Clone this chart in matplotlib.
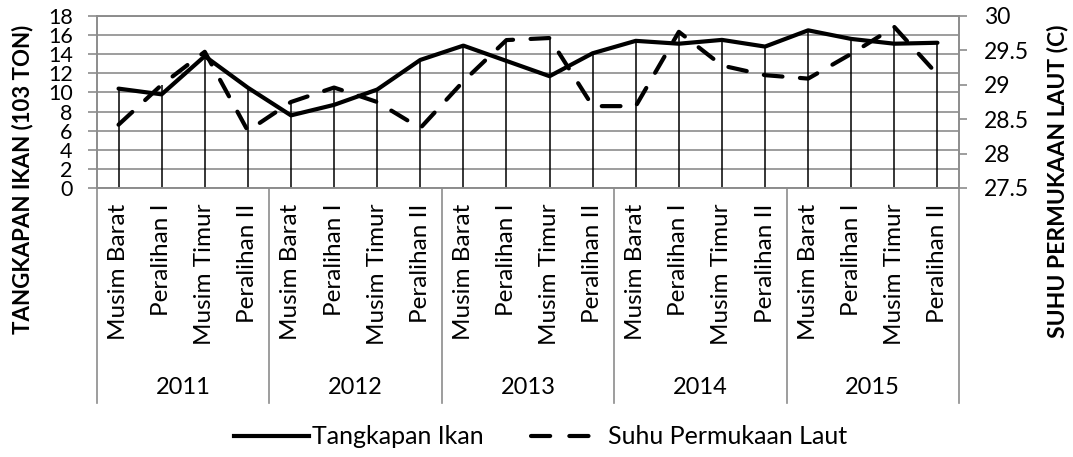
import numpy as np
import matplotlib
matplotlib.use('Agg')
import matplotlib.pyplot as plt
from matplotlib.transforms import blended_transform_factory

plt.rcParams['font.family'] = ['Lato', 'DejaVu Sans']

# data
years = ['2011', '2012', '2013', '2014', '2015']
seasons = ['Musim Barat', 'Peralihan I', 'Musim Timur', 'Peralihan II']
tangkapan = [10.4, 9.8, 13.8, 10.5, 7.6, 8.7, 10.3, 13.4, 14.9, 13.3,
             11.7, 14.1, 15.4, 15.1, 15.5, 14.8, 16.5, 15.6, 15.1, 15.2]
suhu = [28.42, 29.0, 29.48, 28.33, 28.75, 28.96, 28.75, 28.37, 29.05, 29.65,
        29.68, 28.69, 28.69, 29.77, 29.28, 29.14, 29.09, 29.45, 29.84, 29.15]

LEFT_LIM = (0, 18)
RIGHT_LIM = (27.5, 30)
GRID = '#8c8c8c'

W, H = 1073, 457
fig = plt.figure(figsize=(W / 100, H / 100), dpi=100)
x0, x1, y0, y1 = 97, 959, 16, 188
ax = fig.add_axes([x0 / W, 1 - y1 / H, (x1 - x0) / W, (y1 - y0) / H])
ax2 = ax.twinx()

n = len(tangkapan)
x = np.arange(n)
labels = seasons * len(years)

# drop lines from the higher of the two series down to the axis
suhu_left = (np.array(suhu) - RIGHT_LIM[0]) / (RIGHT_LIM[1] - RIGHT_LIM[0]) * (LEFT_LIM[1] - LEFT_LIM[0])
tops = np.maximum(np.array(tangkapan), suhu_left)
ax.vlines(x, 0, tops, color='black', lw=1.1, zorder=2)

ax.plot(x, tangkapan, color='black', lw=3, solid_capstyle='round',
        solid_joinstyle='round', zorder=3)
ax2.plot(x, suhu, color='black', lw=3, dashes=(4.5, 4.2),
         dash_capstyle='round', zorder=3)

ax.set_xlim(-0.5, n - 0.5)
ax.set_ylim(*LEFT_LIM)
ax2.set_ylim(*RIGHT_LIM)
ax.set_yticks(np.arange(0, 19, 2))
ax2.set_yticks(np.arange(27.5, 30.01, 0.5))
ax2.set_yticklabels(['27.5', '28', '28.5', '29', '29.5', '30'])

ax.grid(axis='y', color=GRID, lw=1.2)
ax.set_axisbelow(True)
for a in (ax, ax2):
    for s in a.spines.values():
        s.set_color(GRID)
        s.set_linewidth(1.2)
ax.tick_params(axis='y', direction='out', length=6.5, width=1.2, color=GRID,
               pad=11, labelsize=15.5)
ax2.tick_params(axis='y', direction='out', length=6, width=1.2, color=GRID,
                pad=12, labelsize=16.5)

ax.set_xticks(x)
ax.set_xticklabels(labels, rotation=90, fontsize=17.5, va='top', ha='center')
ax.tick_params(axis='x', length=0, pad=11)

# year row and separators
tr = blended_transform_factory(ax.transData, fig.transFigure)
sep_bottom = 1 - 403 / H
sep_top = 1 - y1 / H
for i in range(len(years) + 1):
    xb = i * len(seasons) - 0.5
    ax.plot([xb, xb], [sep_top, sep_bottom], color=GRID, lw=1.2,
            transform=tr, clip_on=False)
for i, yr in enumerate(years):
    xc = i * len(seasons) + (len(seasons) - 1) / 2
    ax.text(xc, 1 - 388 / H, yr, transform=tr, ha='center', va='center',
            fontsize=17)

fig.text(23 / W, 1 - 25 / H, 'TANGKAPAN IKAN (103 TON)', rotation=90,
         ha='center', va='top', fontsize=16, fontweight='bold')
fig.text(1057 / W, 1 - 25 / H, 'SUHU PERMUKAAN LAUT (C)', rotation=90,
         ha='center', va='top', fontsize=16.5, fontweight='bold')

h1, = ax.plot([], [], color='black', lw=3, label='Tangkapan Ikan')
h2, = ax.plot([], [], color='black', lw=3, dashes=(4.6, 4.6),
              dash_capstyle='round', label='Suhu Permukaan Laut')
fig.legend(handles=[h1, h2], loc='center', bbox_to_anchor=(541 / W, 1 - 437 / H),
           ncol=2, frameon=False, fontsize=18, handlelength=3.0,
           handletextpad=0.1, columnspacing=1.9)

plt.savefig('out.png', dpi=100)
plt.close(fig)
